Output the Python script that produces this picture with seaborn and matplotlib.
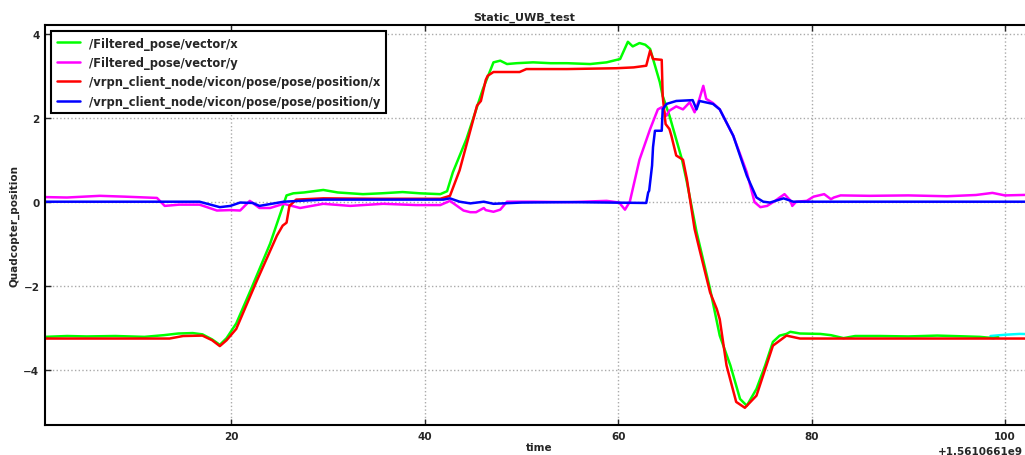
import numpy as np
import pandas as pd
import matplotlib
matplotlib.use("Agg")
import matplotlib.pyplot as plt
import seaborn as sns

# time offsets (s) relative to +1.5610661e9, and positions (m)
gx_t = [0.7, 3.0, 5.0, 8.0, 11.0, 13.0, 14.5, 16.0, 17.0, 18.0, 18.8, 19.5, 20.5, 22.0, 24.0,
        25.7, 26.4, 27.5, 29.5, 31.0, 33.6, 35.5, 37.7, 39.5, 41.6, 42.3, 42.9, 44.3, 46.0,
        47.1, 47.8, 48.5, 49.5, 51.2, 53.0, 54.7, 57.1, 58.8, 60.2, 61.0, 61.5, 62.2, 62.8,
        63.3, 64.3, 64.6, 65.3, 66.6, 67.1, 68.1, 69.5, 70.5, 71.6, 72.6, 73.3, 74.3, 75.2,
        76.0, 76.7, 77.4, 77.8, 78.8, 80.9, 82.0, 83.3, 84.5, 87.1, 90.0, 93.0, 96.0, 97.4,
        98.8, 99.3]
gx_y = [-3.22, -3.2, -3.21, -3.2, -3.22, -3.18, -3.14, -3.13, -3.16, -3.28, -3.41, -3.25, -2.9,
        -2.1, -1.0, 0.15, 0.2, 0.22, 0.28, 0.22, 0.18, 0.2, 0.23, 0.2, 0.18, 0.25, 0.7, 1.49,
        2.68, 3.32, 3.36, 3.28, 3.3, 3.32, 3.3, 3.3, 3.28, 3.32, 3.4, 3.81, 3.7, 3.78, 3.74,
        3.64, 2.85, 2.52, 2.05, 1.0, 0.47, -0.72, -2.08, -3.19, -3.9, -4.7, -4.86, -4.46, -3.9,
        -3.34, -3.19, -3.15, -3.1, -3.14, -3.15, -3.18, -3.25, -3.2, -3.2, -3.21, -3.19, -3.21,
        -3.22, -3.25, -3.23]

gy_t = [0.7, 3.0, 6.4, 9.0, 12.3, 13.1, 14.6, 16.7, 18.5, 19.9, 20.9, 21.9, 22.9, 24.0, 25.4,
        27.1, 29.5, 32.3, 33.6, 35.7, 39.1, 41.6, 42.6, 44.0, 44.7, 45.3, 46.1, 46.3, 47.1,
        47.8, 48.5, 51.2, 55.0, 58.8, 60.1, 60.7, 61.2, 62.2, 63.3, 64.1, 64.5, 65.0, 65.3,
        66.0, 66.7, 67.4, 67.9, 68.4, 68.8, 69.1, 69.8, 70.5, 71.9, 73.3, 74.1, 74.7, 75.4,
        76.1, 76.7, 77.2, 77.8, 78.0, 78.4, 79.5, 80.2, 81.3, 82.0, 82.3, 83.0, 86.0, 90.0,
        94.0, 97.0, 98.7, 100.0, 103.5]
gy_y = [0.11, 0.1, 0.14, 0.12, 0.09, -0.1, -0.07, -0.07, -0.21, -0.2, -0.21, 0.02, -0.15, -0.15,
        -0.05, -0.15, -0.05, -0.1, -0.08, -0.05, -0.08, -0.08, 0.02, -0.21, -0.25, -0.25, -0.15,
        -0.2, -0.24, -0.19, 0.0, 0.0, -0.01, 0.02, -0.02, -0.19, 0.0, 1.0, 1.73, 2.2, 2.25, 2.05,
        2.17, 2.27, 2.2, 2.37, 2.13, 2.45, 2.76, 2.45, 2.35, 2.2, 1.57, 0.7, -0.01, -0.13, -0.1,
        0.0, 0.1, 0.18, 0.03, -0.1, 0.0, 0.02, 0.12, 0.18, 0.06, 0.1, 0.15, 0.14, 0.15, 0.13,
        0.16, 0.21, 0.15, 0.17]

vx_t = [0.7, 5.0, 10.0, 13.6, 15.0, 17.0, 18.0, 18.8, 19.5, 20.5, 22.5, 24.7, 25.3, 25.7, 26.0,
        26.7, 29.5, 35.0, 41.6, 42.6, 43.6, 45.4, 45.8, 46.0, 46.3, 46.5, 47.1, 49.8, 50.5,
        54.7, 59.8, 61.6, 62.9, 63.3, 63.6, 64.5, 64.6, 64.9, 65.3, 65.5, 66.0, 66.7, 67.1,
        67.9, 68.4, 69.5, 70.2, 70.5, 71.2, 72.2, 73.1, 74.3, 76.0, 77.4, 78.8, 90.0, 103.5]
vx_y = [-3.26, -3.26, -3.26, -3.26, -3.2, -3.19, -3.3, -3.44, -3.3, -3.03, -1.95, -0.81, -0.57,
        -0.5, -0.1, 0.05, 0.08, 0.07, 0.07, 0.14, 0.75, 2.29, 2.4, 2.6, 2.9, 3.0, 3.09, 3.09,
        3.16, 3.16, 3.18, 3.2, 3.24, 3.6, 3.4, 3.38, 2.52, 1.85, 1.73, 1.57, 1.1, 1.0, 0.54,
        -0.65, -1.13, -2.16, -2.56, -2.8, -3.9, -4.77, -4.91, -4.62, -3.43, -3.19, -3.26,
        -3.26, -3.26]

vy_t = [0.7, 10.0, 16.7, 18.8, 19.9, 20.9, 22.2, 22.9, 25.4, 29.5, 41.9, 42.6, 43.6, 44.7,
        46.1, 47.1, 50.0, 55.0, 62.9, 63.1, 63.2, 63.5, 63.6, 63.8, 64.5, 64.6, 65.0, 66.0,
        67.7, 68.1, 68.4, 69.8, 70.5, 71.9, 73.3, 74.3, 75.0, 75.7, 77.1, 78.1, 103.5]
vy_y = [0.0, 0.0, 0.0, -0.13, -0.1, -0.02, -0.03, -0.1, 0.0, 0.05, 0.05, 0.08, 0.0, -0.04, 0.0,
        -0.05, -0.02, -0.01, -0.03, 0.22, 0.26, 0.86, 1.3, 1.69, 1.69, 2.2, 2.33, 2.4, 2.42,
        2.2, 2.4, 2.33, 2.2, 1.57, 0.62, 0.1, 0.0, -0.02, 0.08, 0.0, 0.0]

# extra trace peeking out under the green one at the right end
cx_t = [98.5, 100.0, 101.5, 103.5]
cx_y = [-3.2, -3.17, -3.15, -3.16]

series = [
    (gx_t, gx_y, "#00ff00", "/Filtered_pose/vector/x"),
    (gy_t, gy_y, "#ff00ff", "/Filtered_pose/vector/y"),
    (vx_t, vx_y, "#ff0000", "/vrpn_client_node/vicon/pose/pose/position/x"),
    (vy_t, vy_y, "#0000ff", "/vrpn_client_node/vicon/pose/pose/position/y"),
]

sns.set_theme(style="ticks")
plt.rcParams["font.family"] = ["DejaVu Sans"]
plt.rcParams["font.weight"] = "bold"

fig = plt.figure(figsize=(10.25, 4.56), dpi=100)
ax = fig.add_axes([45 / 1025, 30 / 456, (1034 - 45) / 1025, 400 / 456])

sns.lineplot(x=cx_t, y=cx_y, color="#00ffff", lw=1.8, ax=ax, estimator=None, sort=False)
for t, y, c, lab in series:
    sns.lineplot(x=t, y=y, color=c, lw=1.8, label=lab, ax=ax, estimator=None, sort=False)

ax.set_xlim(0.72, 103.0)
ax.set_ylim(-5.32, 4.21)
ax.set_xticks([20, 40, 60, 80, 100])
ax.set_yticks([-4, -2, 0, 2, 4])
ax.set_yticklabels(["\u22124", "\u22122", "0", "2", "4"])
ax.grid(True, color="#aaaaaa", linestyle=":", linewidth=1.0)
ax.tick_params(direction="in", top=True, right=True, length=4, width=1, labelsize=7.5, pad=4)
for lbl in ax.get_xticklabels() + ax.get_yticklabels():
    lbl.set_fontweight("bold")
for s in ax.spines.values():
    s.set_linewidth(1.5)
    s.set_color("black")

ax.set_title("Static_UWB_test", fontsize=8, fontweight="bold", pad=4, x=0.485)
ax.set_xlabel("time", fontsize=7.5, fontweight="bold", labelpad=1)
ax.set_ylabel("Quadcopter_position", fontsize=7.5, fontweight="bold", labelpad=3)
ax.annotate("+1.5610661e9", xy=(1.0, 0.0), xycoords="axes fraction", xytext=(-8, -15),
            textcoords="offset points", ha="right", va="top", fontsize=7.5,
            fontweight="bold", annotation_clip=False)

leg = ax.legend(loc="upper left", fontsize=8.3, labelspacing=0.55, fancybox=False,
                framealpha=1, edgecolor="black", borderaxespad=0.5, borderpad=0.5)
leg.get_frame().set_linewidth(1.5)
for txt in leg.get_texts():
    txt.set_fontweight("bold")

fig.savefig("out.png", dpi=100)
